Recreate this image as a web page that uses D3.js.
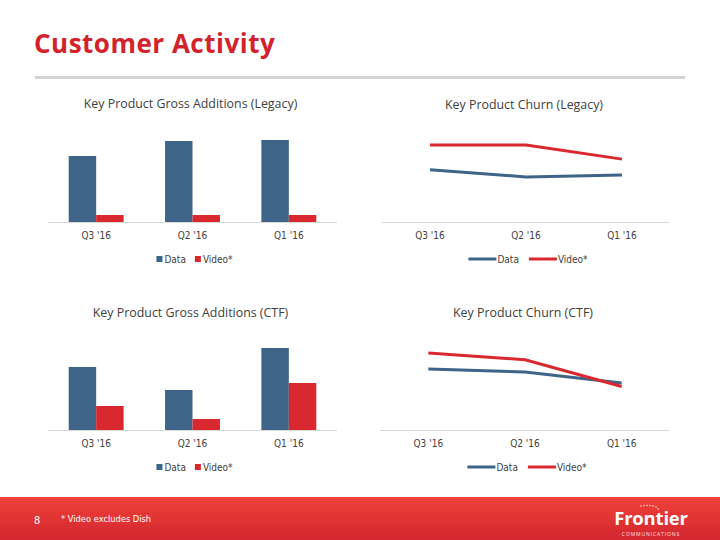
<!DOCTYPE html>
<html><head><meta charset="utf-8">
<script src="https://cdn.jsdelivr.net/npm/d3@7"></script>
<style>
html,body{margin:0;padding:0;background:#fff;}
svg{display:block;}
</style></head>
<body>
<svg id="c" width="720" height="540"></svg>
<script>
// ---- data ----
const quarters = ["Q3 '16", "Q2 '16", "Q1 '16"];
const seriesNames = ["Data", "Video*"];

// Gross additions (relative units)
const legacyAddsData  = [66, 81, 82];
const legacyAddsVideo = [7, 7, 7];
const ctfAddsData     = [63, 40, 82];
const ctfAddsVideo    = [24, 11, 47];

// Churn (%)
const legacyChurnData  = [1.70, 1.47, 1.53];
const legacyChurnVideo = [2.51, 2.51, 2.05];
const ctfChurnData     = [1.99, 1.89, 1.53];
const ctfChurnVideo    = [2.51, 2.29, 1.42];

const chartTitles = [
  "Key Product Gross Additions (Legacy)",
  "Key Product Churn (Legacy)",
  "Key Product Gross Additions (CTF)",
  "Key Product Churn (CTF)"
];
const pageTitle = "Customer Activity";
const footnote = "* Video excludes Dish";
const pageNumber = "8";

// ---- styles ----
const BLUE = "#3e6488", RED = "#d9282f", TXT = "#404040";
const colors = [BLUE, RED];
const FONT = "'Open Sans', 'Noto Sans', sans-serif";
const AXFONT = "'DejaVu Sans Condensed', 'Liberation Sans', sans-serif";

const svg = d3.select("#c");

// page title
svg.append("text").attr("x", 34).attr("y", 53)
  .attr("font-family", FONT).attr("font-weight", 700).attr("font-size", 26)
  .attr("fill", "#d2232d").attr("letter-spacing", 0.5).text(pageTitle);
svg.append("rect").attr("x", 35).attr("y", 76).attr("width", 650).attr("height", 3).attr("fill", "#d4d4d4");

// chart frames
const frames = [
  {x0: 48, x1: 337, base: 222, titleY: 108, type: "bar", data: [legacyAddsData, legacyAddsVideo]},
  {x0: 382, x1: 670, base: 222, titleY: 109, type: "line", data: [legacyChurnData, legacyChurnVideo]},
  {x0: 48, x1: 337, base: 430, titleY: 317, type: "bar", data: [ctfAddsData, ctfAddsVideo]},
  {x0: 380, x1: 670, base: 430, titleY: 317, type: "line", data: [ctfChurnData, ctfChurnVideo]}
];

frames.forEach((f, i) => {
  const g = svg.append("g");
  const cx = (f.x0 + f.x1) / 2;
  g.append("text").attr("x", cx - 2).attr("y", f.titleY).attr("text-anchor", "middle")
    .attr("font-family", FONT).attr("font-size", 12.4).attr("fill", TXT).text(chartTitles[i]);

  let xCenter;
  if (f.type === "bar") {
    const x = d3.scaleBand().domain(quarters).range([f.x0, f.x1]).paddingInner(0.43).paddingOuter(0.215);
    const xs = d3.scaleBand().domain(seriesNames).range([0, x.bandwidth()]);
    const y = d3.scaleLinear().domain([0, 100]).range([f.base, f.base - 100]);
    seriesNames.forEach((s, si) => {
      g.selectAll(null).data(f.data[si]).join("rect")
        .attr("x", (d, k) => x(quarters[k]) + xs(s))
        .attr("width", xs.bandwidth())
        .attr("y", d => y(d))
        .attr("height", d => y(0) - y(d))
        .attr("fill", colors[si]);
    });
    xCenter = q => x(q) + x.bandwidth() / 2;
  } else {
    const x = d3.scalePoint().domain(quarters).range([f.x0, f.x1]).padding(0.5);
    const y = d3.scaleLinear().domain([0, 3]).range([f.base, f.base - 92]);
    const line = d3.line().x((d, k) => x(quarters[k])).y(d => y(d));
    seriesNames.forEach((s, si) => {
      g.append("path").attr("d", line(f.data[si])).attr("fill", "none")
        .attr("stroke", colors[si]).attr("stroke-width", 3).attr("stroke-linejoin", "round");
    });
    xCenter = q => x(q);
  }
  // axis line
  g.append("line").attr("x1", f.x0).attr("x2", f.x1).attr("y1", f.base + 0.5).attr("y2", f.base + 0.5)
    .attr("stroke", "#d9d9d9").attr("stroke-width", 1);
  // category labels
  g.selectAll(null).data(quarters).join("text")
    .attr("x", q => xCenter(q)).attr("y", f.base + 17).attr("text-anchor", "middle")
    .attr("font-family", AXFONT).attr("font-size", 10).attr("fill", TXT).text(q => q);

  // legend
  const lg = g.append("g");
  let pos = 0;
  seriesNames.forEach((s, si) => {
    const it = lg.append("g").attr("transform", `translate(${pos},0)`);
    let w;
    if (f.type === "bar") {
      it.append("rect").attr("x", 0).attr("y", -7).attr("width", 6).attr("height", 6).attr("fill", colors[si]);
      w = 8;
    } else {
      it.append("line").attr("x1", 0).attr("x2", 28).attr("y1", -4).attr("y2", -4)
        .attr("stroke", colors[si]).attr("stroke-width", 3);
      w = 29;
    }
    const t = it.append("text").attr("x", w).attr("y", 0).attr("font-family", AXFONT)
      .attr("font-size", 10).attr("fill", TXT).text(s);
    pos += w + t.node().getComputedTextLength() + (f.type === "bar" ? 9 : 10);
  });
  const total = pos - (f.type === "bar" ? 9 : 10);
  lg.attr("transform", `translate(${cx + 2 - total / 2},${f.base + 41})`);
});

// footer
const defs = svg.append("defs");
const grad = defs.append("linearGradient").attr("id", "fg").attr("x1", 0).attr("x2", 0).attr("y1", 0).attr("y2", 1);
grad.append("stop").attr("offset", "0%").attr("stop-color", "#ef4239");
grad.append("stop").attr("offset", "100%").attr("stop-color", "#d3262f");
svg.append("rect").attr("x", 0).attr("y", 497).attr("width", 720).attr("height", 43).attr("fill", "url(#fg)");
svg.append("text").attr("x", 34).attr("y", 524).attr("font-family", AXFONT).attr("font-size", 11)
  .attr("fill", "#fff").text(pageNumber);
svg.append("text").attr("x", 61).attr("y", 522).attr("font-family", "'DejaVu Sans', sans-serif").attr("font-size", 8.3)
  .attr("fill", "#fff").text(footnote);
// logo
svg.append("text").attr("x", 651).attr("y", 524.5).attr("text-anchor", "middle")
  .attr("font-family", FONT).attr("font-weight", 700).attr("font-size", 18.5).attr("letter-spacing", -0.2)
  .attr("fill", "#fff").text("Frontier");
svg.append("text").attr("x", 651).attr("y", 536).attr("text-anchor", "middle")
  .attr("font-family", FONT).attr("font-size", 5).attr("letter-spacing", 0.9)
  .attr("fill", "#fde0e0").text("COMMUNICATIONS");
const dots = [[641,506],[644,505.5],[647,505.5],[650,505.5],[653,506],[656,507],[658,509]];
svg.selectAll(null).data(dots).join("circle").attr("cx", d => d[0]).attr("cy", d => d[1]).attr("r", 0.7).attr("fill", "#fff");
</script>
</body></html>
